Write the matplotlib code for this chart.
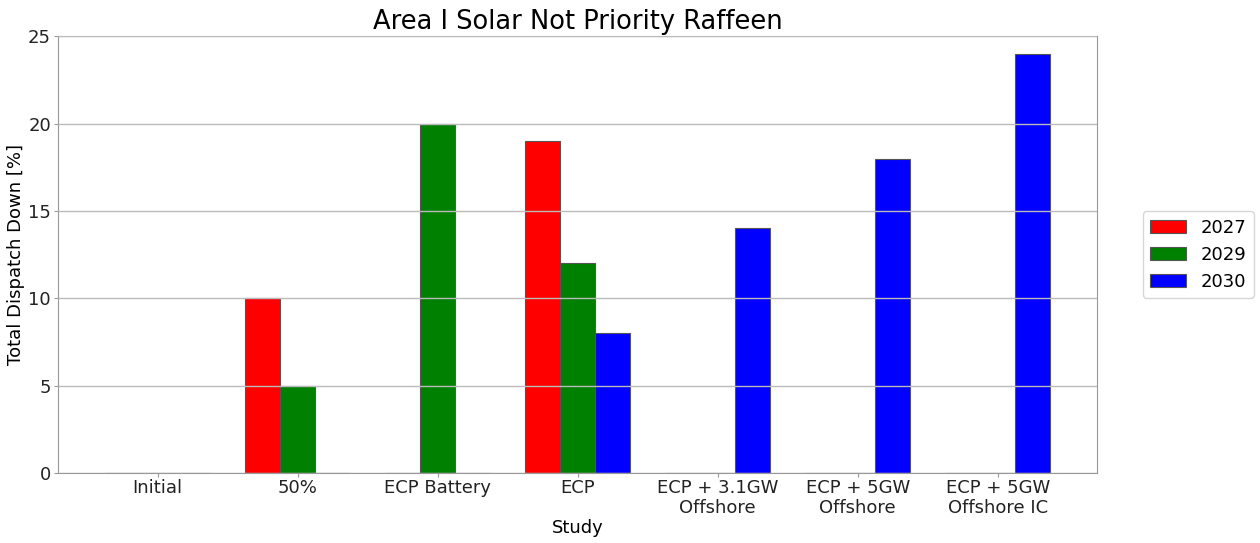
import matplotlib
matplotlib.use("Agg")
import matplotlib.pyplot as plt
import numpy as np

studies = ["Initial", "50%", "ECP Battery", "ECP", "ECP + 3.1GW\nOffshore",
           "ECP + 5GW\nOffshore", "ECP + 5GW\nOffshore IC"]
years = ["2027", "2029", "2030"]
vals_2027 = [0, 10, 0, 19, 0, 0, 0]
vals_2029 = [0, 5, 20, 12, 0, 0, 0]
vals_2030 = [0, 0, 0, 8, 14, 18, 24]
colors = ["red", "green", "blue"]

fig = plt.figure(figsize=(12.6, 5.43), dpi=100)
ax = fig.add_axes([0.046, 0.129, 0.825, 0.804])

x = np.arange(len(studies))
w = 0.25
for i, (vals, yr, c) in enumerate(zip([vals_2027, vals_2029, vals_2030], years, colors)):
    ax.bar(x + (i - 1) * w, vals, w, color=c, edgecolor="#555555", linewidth=0.8, label=yr)

ax.set_xticks(x)
ax.set_xticklabels(studies, fontsize=13)
ax.set_yticks([0, 5, 10, 15, 20, 25])
ax.tick_params(axis="y", labelsize=13, length=3, pad=2)
ax.tick_params(axis="x", length=3, pad=1)
ax.set_ylim(0, 25)
ax.set_xlabel("Study", fontsize=13, labelpad=1)
ax.set_ylabel("Total Dispatch Down [%]", fontsize=13, labelpad=2)
ax.set_title("Area I Solar Not Priority Raffeen", fontsize=18.5, pad=5)
ax.yaxis.grid(True, color="#bbbbbb", linewidth=1)
ax.set_axisbelow(False)
for s in ax.spines.values():
    s.set_color("#999999")
ax.tick_params(colors="#999999", labelcolor="#222222")
ax.legend(loc="center left", bbox_to_anchor=(1.035, 0.5), fontsize=13)

fig.savefig("out.png", dpi=100)
